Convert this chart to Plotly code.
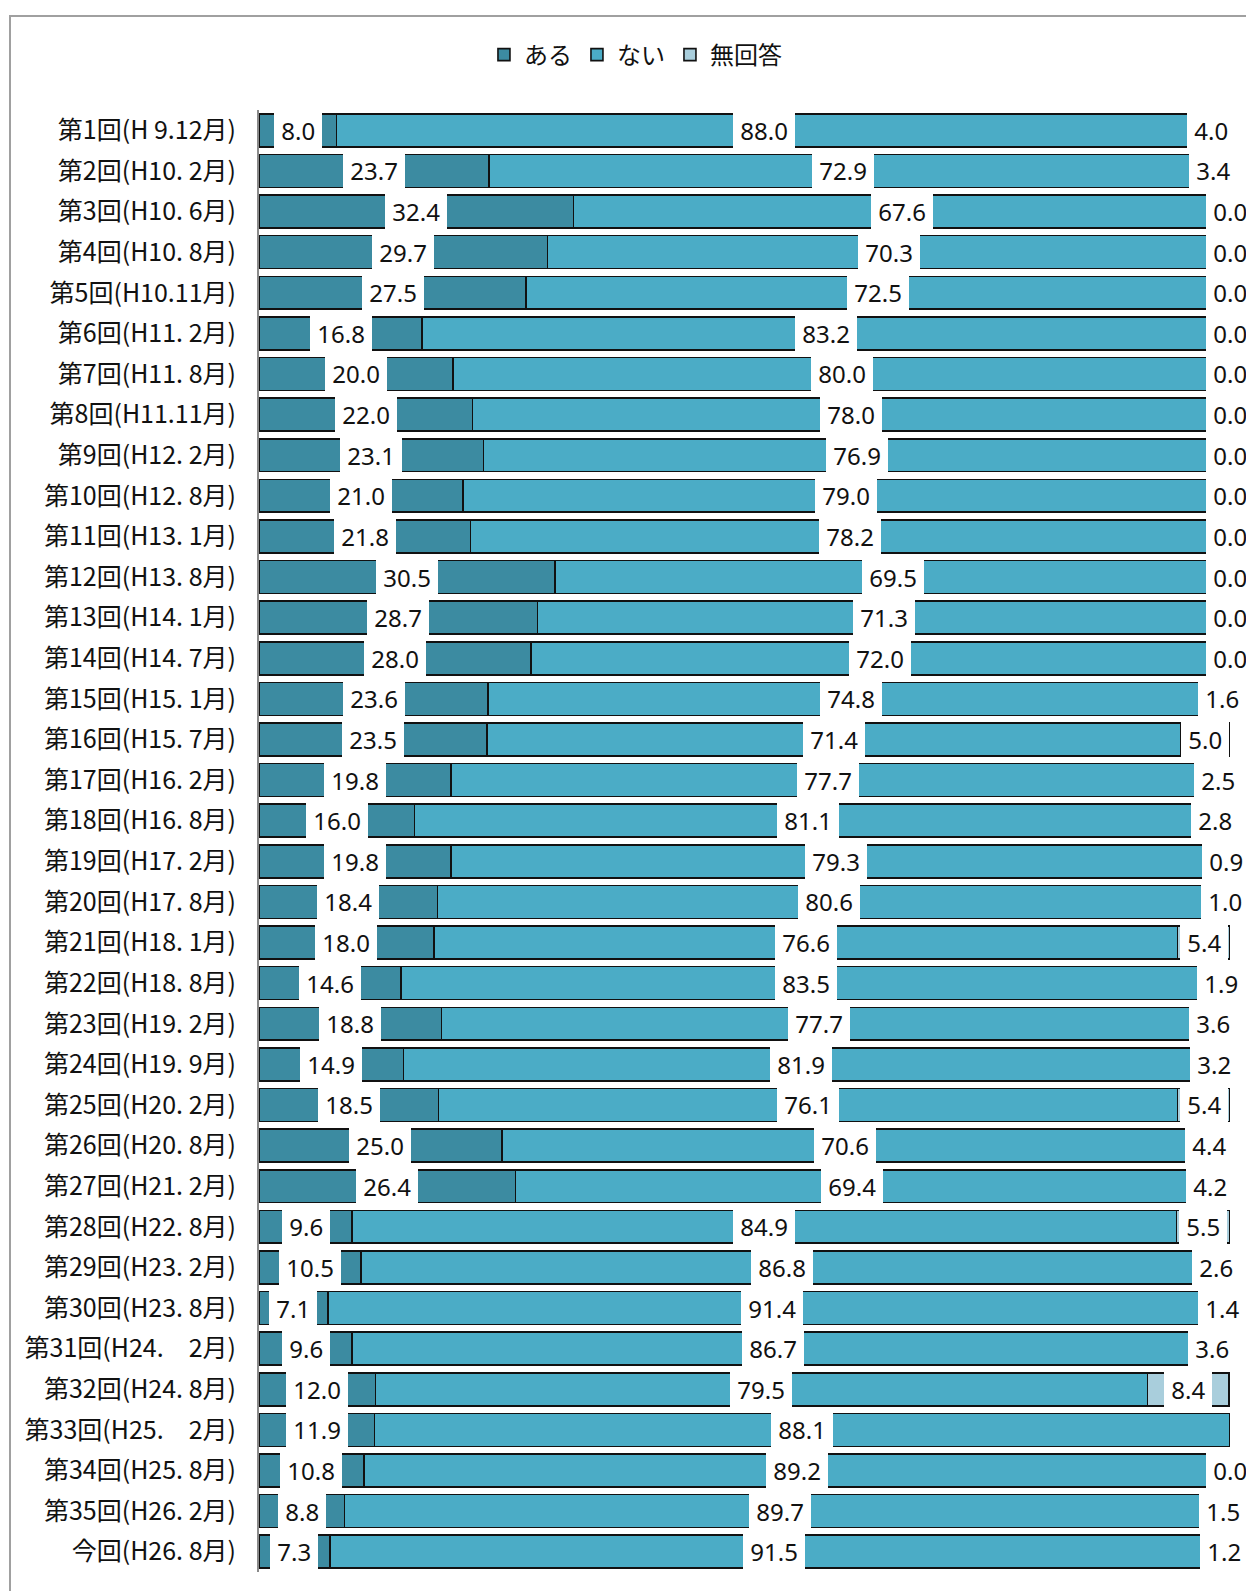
import plotly.graph_objects as go

categories = [
    "第1回(H 9.12月)", "第2回(H10. 2月)", "第3回(H10. 6月)", "第4回(H10. 8月)",
    "第5回(H10.11月)", "第6回(H11. 2月)", "第7回(H11. 8月)", "第8回(H11.11月)",
    "第9回(H12. 2月)", "第10回(H12. 8月)", "第11回(H13. 1月)", "第12回(H13. 8月)",
    "第13回(H14. 1月)", "第14回(H14. 7月)", "第15回(H15. 1月)", "第16回(H15. 7月)",
    "第17回(H16. 2月)", "第18回(H16. 8月)", "第19回(H17. 2月)", "第20回(H17. 8月)",
    "第21回(H18. 1月)", "第22回(H18. 8月)", "第23回(H19. 2月)", "第24回(H19. 9月)",
    "第25回(H20. 2月)", "第26回(H20. 8月)", "第27回(H21. 2月)", "第28回(H22. 8月)",
    "第29回(H23. 2月)", "第30回(H23. 8月)", "第31回(H24.\u30002月)", "第32回(H24. 8月)",
    "第33回(H25.\u30002月)", "第34回(H25. 8月)", "第35回(H26. 2月)", "今回(H26. 8月)",
]

aru = [8.0, 23.7, 32.4, 29.7, 27.5, 16.8, 20.0, 22.0, 23.1, 21.0, 21.8, 30.5,
       28.7, 28.0, 23.6, 23.5, 19.8, 16.0, 19.8, 18.4, 18.0, 14.6, 18.8, 14.9,
       18.5, 25.0, 26.4, 9.6, 10.5, 7.1, 9.6, 12.0, 11.9, 10.8, 8.8, 7.3]
nai = [88.0, 72.9, 67.6, 70.3, 72.5, 83.2, 80.0, 78.0, 76.9, 79.0, 78.2, 69.5,
       71.3, 72.0, 74.8, 71.4, 77.7, 81.1, 79.3, 80.6, 76.6, 83.5, 77.7, 81.9,
       76.1, 70.6, 69.4, 84.9, 86.8, 91.4, 86.7, 79.5, 88.1, 89.2, 89.7, 91.5]
mukaito = [4.0, 3.4, 0.0, 0.0, 0.0, 0.0, 0.0, 0.0, 0.0, 0.0, 0.0, 0.0,
           0.0, 0.0, 1.6, 5.0, 2.5, 2.8, 0.9, 1.0, 5.4, 1.9, 3.6, 3.2,
           5.4, 4.4, 4.2, 5.5, 2.6, 1.4, 3.6, 8.4, None, 0.0, 1.5, 1.2]

series_names = ["ある", "ない", "無回答"]
colors = ["#3C8BA1", "#4BACC6", "#A9CEDC"]

W, H = 1246, 1591
ML, MR, MT, MB = 259, 16, 110, 19

fig = go.Figure()
for name, vals, col in zip(series_names, [aru, nai, mukaito], colors):
    fig.add_trace(go.Bar(
        name=name, y=categories, x=[v if v is not None else 0 for v in vals],
        orientation="h", marker=dict(color=col, line=dict(color="#111111", width=1.6)),
        hoverinfo="skip",
    ))

NB = "\u00a0"
annotations = []
for i, cat in enumerate(categories):
    start = 0.0
    for vals in (aru, nai, mukaito):
        v = vals[i]
        if v is None:
            continue
        annotations.append(dict(
            x=start + v / 2, y=cat, xref="x", yref="y",
            text=NB + f"{v:.1f}" + NB, showarrow=False,
            xanchor="center", yanchor="middle",
            bgcolor="white", borderpad=1, borderwidth=0,
            font=dict(family="Noto Sans, Lato, sans-serif", size=24, color="#111111"),
        ))
        start += v

frame_x0 = (10 - ML) / (W - ML - MR)
frame_y1 = 1 + (MT - 16) / (H - MT - MB)

fig.update_layout(
    width=W, height=H,
    margin=dict(l=ML, r=MR, t=MT, b=MB),
    barmode="stack", bargap=0.19,
    plot_bgcolor="white", paper_bgcolor="white",
    font=dict(family="Noto Sans CJK JP, sans-serif", color="#111111"),
    showlegend=True,
    legend=dict(
        orientation="h", xref="container", yref="container",
        x=0.51, xanchor="center", y=1 - 55 / H, yanchor="middle",
        font=dict(family="Noto Sans CJK JP, sans-serif", size=24, color="#111111"),
        bgcolor="rgba(0,0,0,0)", traceorder="normal", itemwidth=30,
    ),
    xaxis=dict(range=[0, 100], showgrid=False, zeroline=False,
               showticklabels=False, showline=False, fixedrange=True),
    yaxis=dict(autorange="reversed", categoryorder="array", categoryarray=categories,
               showgrid=False, zeroline=False, showline=True, linecolor="#8A8A8A",
               linewidth=2, ticks="", ticklabelstandoff=16,
               tickfont=dict(family="Noto Sans CJK JP, sans-serif", size=25, color="#111111")),
    annotations=annotations,
    shapes=[dict(type="rect", xref="paper", yref="paper",
                 x0=frame_x0, x1=1.2, y0=-0.2, y1=frame_y1,
                 line=dict(color="#A0A0A0", width=2), fillcolor="rgba(0,0,0,0)",
                 layer="below")],
)

fig.write_html("out.html", config={"displayModeBar": False},
               post_script="document.body.style.margin='0';document.body.style.overflow='hidden';")
